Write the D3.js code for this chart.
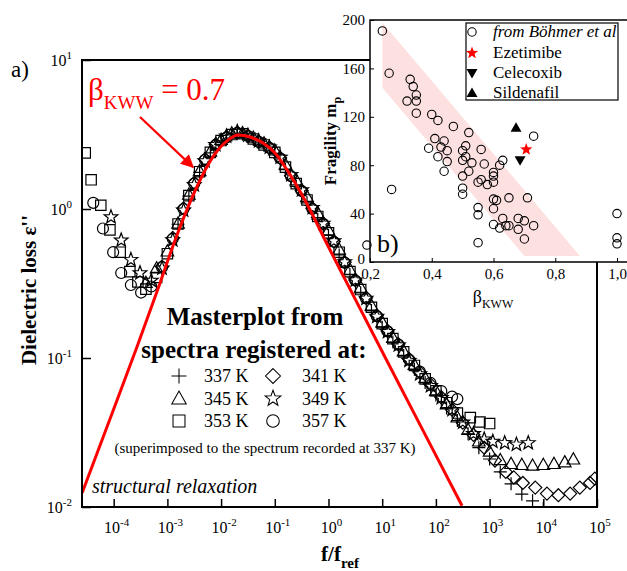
<!DOCTYPE html>
<html><head><meta charset="utf-8">
<script src="https://cdn.jsdelivr.net/npm/d3@7"></script>
<style>
body{margin:0;background:#fff}
svg{display:block}
text{font-family:"Liberation Serif","Times New Roman",serif;fill:#000}
</style>
</head><body>
<svg id="c" width="627" height="571"></svg>
<script>
// ---------- main chart data: [f/f_ref, eps''] ----------
const s337 = [[1.58e-3,0.79],[2.51e-3,1.22],[3.98e-3,1.76],[6.31e-3,2.38],[1.00e-2,2.86],[1.58e-2,3.14],[2.51e-2,3.18],[3.98e-2,2.93],[6.31e-2,2.67],[0.100,2.36],[0.158,1.84],[0.251,1.42],[0.398,1.10],[0.631,0.855],[1.00,0.665],[1.58,0.492],[2.51,0.362],[3.98,0.274],[6.31,0.208],[10.0,0.161],[15.8,0.128],[25.1,0.104],[39.8,0.0842],[63.1,0.0686],[100,0.0565],[158,0.0462],[251,0.0380],[398,0.0310],[631,0.0250],[1000,0.0210],[1580,0.0172],[2510,0.0143],[3980,0.0122],[6310,0.0110],[1.00e4,0.0098]];
const s341 = [[7.94e-4,0.41],[1.26e-3,0.64],[2.00e-3,1.01],[3.16e-3,1.50],[5.01e-3,2.16],[7.94e-3,2.72],[1.26e-2,3.05],[2.00e-2,3.26],[3.16e-2,3.10],[5.01e-2,2.84],[7.94e-2,2.58],[0.126,2.20],[0.200,1.67],[0.316,1.33],[0.501,1.01],[0.794,0.80],[1.26,0.605],[2.00,0.44],[3.16,0.334],[5.01,0.254],[7.94,0.193],[12.6,0.152],[20.0,0.124],[31.6,0.0985],[50.1,0.0800],[79.4,0.0665],[126,0.0545],[200,0.0450],[316,0.0368],[501,0.0305],[794,0.0250],[1260,0.0205],[2000,0.0172],[2820,0.0158],[4170,0.0145],[7080,0.0135],[1.17e4,0.0123],[1.91e4,0.0120],[3.16e4,0.0123],[4.79e4,0.0135],[7.41e4,0.0145],[9.12e4,0.0155]];
const s345 = [[3.98e-4,0.32],[6.31e-4,0.40],[1.00e-3,0.52],[1.58e-3,0.80],[2.51e-3,1.25],[3.98e-3,1.80],[6.31e-3,2.43],[1.00e-2,2.92],[1.58e-2,3.22],[2.51e-2,3.24],[3.98e-2,3.02],[6.31e-2,2.76],[0.100,2.48],[0.158,1.99],[0.251,1.56],[0.398,1.21],[0.631,0.94],[1.00,0.72],[1.58,0.535],[2.51,0.392],[3.98,0.297],[6.31,0.225],[10.0,0.174],[15.8,0.137],[25.1,0.111],[39.8,0.0900],[63.1,0.0735],[100,0.0600],[158,0.0490],[251,0.0400],[398,0.0330],[631,0.0276],[1000,0.0236],[1580,0.0207],[2510,0.0195],[3980,0.0192],[6310,0.0190],[1.00e4,0.0192],[1.58e4,0.0195],[2.51e4,0.0200],[3.63e4,0.0209]];
const s349 = [[8.91e-5,0.883],[1.38e-4,0.617],[2.09e-4,0.457],[3.09e-4,0.372],[5.01e-4,0.331],[7.94e-4,0.40],[1.26e-3,0.62],[2.00e-3,0.98],[3.16e-3,1.45],[5.01e-3,2.10],[7.94e-3,2.70],[1.26e-2,3.08],[2.00e-2,3.30],[3.16e-2,3.12],[5.01e-2,2.86],[7.94e-2,2.60],[0.126,2.22],[0.200,1.70],[0.316,1.34],[0.501,1.02],[0.794,0.80],[1.26,0.61],[2.00,0.44],[3.16,0.333],[5.01,0.251],[7.94,0.190],[12.6,0.150],[20.0,0.122],[31.6,0.0960],[50.1,0.0780],[79.4,0.0650],[126,0.0540],[200,0.0450],[316,0.0370],[501,0.0310],[794,0.0285],[1150,0.0275],[1910,0.0269],[3160,0.0263],[5250,0.0269]];
const s353 = [[2.95e-5,2.38],[3.80e-5,1.57],[5.75e-5,1.06],[8.51e-5,0.724],[1.32e-4,0.513],[2.00e-4,0.380],[2.82e-4,0.324],[3.98e-4,0.290],[6.31e-4,0.347],[1.00e-3,0.501],[1.58e-3,0.794],[2.51e-3,1.23],[3.98e-3,1.78],[6.31e-3,2.40],[1.00e-2,2.88],[1.58e-2,3.16],[2.51e-2,3.20],[3.98e-2,2.95],[6.31e-2,2.69],[0.100,2.40],[0.158,1.91],[0.251,1.48],[0.398,1.15],[0.631,0.891],[1.00,0.692],[1.58,0.513],[2.51,0.380],[3.98,0.288],[6.31,0.219],[10.0,0.170],[15.8,0.135],[25.1,0.110],[39.8,0.0891],[63.1,0.0724],[100,0.0603],[158,0.0501],[251,0.0427],[437,0.0398],[661,0.0372],[1000,0.0363]];
const s357 = [[4.17e-5,1.10],[6.31e-5,0.74],[9.77e-5,0.513],[1.38e-4,0.372],[2.09e-4,0.309],[3.24e-4,0.275],[5.01e-4,0.302],[7.94e-4,0.407],[1.26e-3,0.631],[2.00e-3,1.00],[3.16e-3,1.48],[5.01e-3,2.14],[7.94e-3,2.69],[1.26e-2,3.02],[2.00e-2,3.24],[3.16e-2,3.09],[5.01e-2,2.82],[7.94e-2,2.57],[0.126,2.19],[0.200,1.66],[0.316,1.32],[0.501,1.00],[0.794,0.794],[1.26,0.603],[2.00,0.437],[3.16,0.331],[5.01,0.251],[7.94,0.191],[12.6,0.151],[20.0,0.123],[31.6,0.0977],[50.1,0.081],[79.4,0.068],[126,0.060],[200,0.055],[251,0.053]];
// KWW fit (beta = 0.7)
const kwwFit = [[2.58e-5,0.0124],[8.53e-5,0.0390],[2.72e-4,0.119],[7.28e-4,0.318],[1.33e-3,0.592],[2.42e-3,1.03],[4.41e-3,1.66],[7.69e-3,2.34],[1.35e-2,2.90],[2.07e-2,3.14],[3.47e-2,3.04],[6.03e-2,2.77],[0.101,2.38],[0.169,1.83],[0.398,1.08],[0.938,0.582],[2.21,0.318],[12.3,0.0955],[68.2,0.0290],[306,0.0102]];
const tempLabels = ["337 K","341 K","345 K","349 K","353 K","357 K"];
const xMajorTicks = [1e-4,1e-3,1e-2,1e-1,1e0,1e1,1e2,1e3,1e4,1e5];
const xExponents = ["-4","-3","-2","-1","0","1","2","3","4","5"];
const yMajorTicks = [1e-2,1e-1,1e0,1e1];
const yExponents = ["-2","-1","0","1"];

// ---------- inset data ----------
const bohmerBeta = [0.24,0.262,0.27,0.33,0.34,0.32,0.35,0.35,0.35,0.40,0.42,0.47,0.52,0.41,0.44,0.39,0.43,0.45,0.51,0.50,0.56,0.42,0.45,0.50,0.51,0.53,0.44,0.52,0.50,0.57,0.60,0.60,0.62,0.63,0.55,0.56,0.58,0.60,0.50,0.50,0.60,0.61,0.65,0.55,0.60,0.55,0.60,0.63,0.62,0.64,0.65,0.68,0.70,0.68,0.73,0.70,0.55,0.71,0.73,0.19,1.00,1.00,1.00];
const bohmerM    = [191,156,60,151,145,133,138,133,123,122,117,112,107,102,100,94,95,92,96,92,93,87,83,84,87,82,75,75,71,81,74,71,80,84,66,68,64,66,61,56,52,51,53,45,44,39,31,36,28,30,30,36,34,27,30,19,16,53,104,14,40,20,15];
const ezetimibe = [0.706, 93];
const celecoxib = [0.686, 84];
const sildenafil = [0.673, 111];
const bandPoly = [[0.24,198],[0.88,5],[0.70,5],[0.24,144]];
const insetXTicks = [0.2,0.4,0.6,0.8,1.0];
const insetYTicks = [0,40,80,120,160,200];

// ---------- helpers ----------
function starPath(R, r){
  const p=[];
  for(let i=0;i<10;i++){const a=-Math.PI/2+i*Math.PI/5;const rad=i%2?r:R;p.push([rad*Math.cos(a),rad*Math.sin(a)]);}
  return "M"+p.map(q=>q[0].toFixed(2)+","+q[1].toFixed(2)).join("L")+"Z";
}
const shapes = {
  plus:"M-6.5,0H6.5M0,-6.5V6.5",
  diamond:"M0,-6.5L6.5,0L0,6.5L-6.5,0Z",
  triangle:"M0,-6.5L6.3,4.7H-6.3Z",
  star:starPath(7.2,3),
  square:"M-5.2,-5.2H5.2V5.2H-5.2Z",
  circle:"M5.5,0A5.5,5.5 0 1,1 -5.5,0A5.5,5.5 0 1,1 5.5,0Z"
};
const series = [
  {data:s357, shape:"circle"},
  {data:s353, shape:"square"},
  {data:s349, shape:"star"},
  {data:s345, shape:"triangle"},
  {data:s341, shape:"diamond"},
  {data:s337, shape:"plus"}
];

const svg = d3.select("#c");
const W=627,H=571;
svg.append("rect").attr("width",W).attr("height",H).attr("fill","#fff");

// ---------- main plot ----------
const L=82,R=597,T=60,B=507;
const x = d3.scaleLog().domain([2.57e-5,1e5]).range([L,R]);
const y = d3.scaleLog().domain([1e-2,1e1]).range([B,T]);

svg.append("clipPath").attr("id","clipMain").append("rect").attr("x",L).attr("y",T).attr("width",R-L).attr("height",B-T);

const xMinor=[];for(let e=-5;e<5;e++)for(let k=2;k<10;k++){const v=k*Math.pow(10,e);if(v>=2.57e-5&&v<=1e5)xMinor.push(v);}
const yMinor=[];for(let e=-2;e<1;e++)for(let k=2;k<10;k++){yMinor.push(k*Math.pow(10,e));}

const gx = svg.append("g").attr("transform",`translate(0,${B})`);
gx.call(d3.axisBottom(x).tickValues(xMinor).tickSize(-4).tickFormat(""));
gx.call(d3.axisBottom(x).tickValues(xMajorTicks).tickSize(-8).tickFormat(""));
gx.select(".domain").remove();
gx.selectAll("line").attr("stroke","#000").attr("stroke-width",1.5);
const gy = svg.append("g").attr("transform",`translate(${L},0)`);
gy.call(d3.axisLeft(y).tickValues(yMinor).tickSize(-5).tickFormat(""));
gy.call(d3.axisLeft(y).tickValues(yMajorTicks).tickSize(-9).tickFormat(""));
gy.select(".domain").remove();
gy.selectAll("line").attr("stroke","#000").attr("stroke-width",1.5);

xMajorTicks.forEach((v,i)=>{
  const t=svg.append("text").attr("x",x(v)+3).attr("y",B+26).attr("text-anchor","middle").attr("font-size",16);
  t.append("tspan").text("10");
  t.append("tspan").attr("dy",-7).attr("font-size",11).text(xExponents[i]);
});
yMajorTicks.forEach((v,i)=>{
  const t=svg.append("text").attr("x",L-10).attr("y",y(v)+6).attr("text-anchor","end").attr("font-size",16);
  t.append("tspan").text("10");
  t.append("tspan").attr("dy",-7).attr("font-size",11).text(yExponents[i]);
});

const gd = svg.append("g").attr("clip-path","url(#clipMain)");
series.forEach(s=>{
  gd.selectAll(null).data(s.data).enter().append("path")
    .attr("d",shapes[s.shape])
    .attr("transform",d=>`translate(${x(d[0])},${y(d[1])})`)
    .attr("fill","none").attr("stroke","#000").attr("stroke-width",1.2);
});
gd.append("path").datum(kwwFit)
  .attr("d",d3.line().x(d=>x(d[0])).y(d=>y(d[1])).curve(d3.curveMonotoneX))
  .attr("fill","none").attr("stroke","#f00").attr("stroke-width",3);

svg.append("rect").attr("x",L).attr("y",T).attr("width",R-L).attr("height",B-T)
  .attr("fill","none").attr("stroke","#000").attr("stroke-width",2);

// arrow annotation
const defs=svg.append("defs");
defs.append("marker").attr("id","ah").attr("viewBox","0 0 10 10").attr("refX",9).attr("refY",5)
  .attr("markerWidth",17).attr("markerHeight",13).attr("markerUnits","userSpaceOnUse")
  .attr("orient","auto").append("path").attr("d","M0,0L10,5L0,10Z").attr("fill","#f00");
svg.append("line").attr("x1",x(3.09e-4)).attr("y1",y(4.14)).attr("x2",x(3.0e-3)).attr("y2",y(1.91))
  .attr("stroke","#f00").attr("stroke-width",2.2).attr("marker-end","url(#ah)");

const beta=svg.append("text").attr("x",88).attr("y",100).attr("font-size",31).style("fill","#f00");
beta.append("tspan").text("β");
beta.append("tspan").attr("dy",9).attr("font-size",19).text("KWW");
beta.append("tspan").attr("dy",-9).text(" = 0.7");

svg.append("text").attr("x",11).attr("y",77).attr("font-size",23).text("a)");

svg.append("text").attr("transform","translate(36,290) rotate(-90)").attr("text-anchor","middle")
  .attr("font-size",21).attr("font-weight","bold").text("Dielectric loss ε''");
const xl=svg.append("text").attr("x",340).attr("y",561).attr("text-anchor","middle").attr("font-size",21).attr("font-weight","bold");
xl.append("tspan").text("f/f");
xl.append("tspan").attr("dy",7).attr("font-size",15).text("ref");

svg.append("text").attr("x",255).attr("y",325).attr("text-anchor","middle").attr("font-size",25).attr("font-weight","bold").text("Masterplot from");
svg.append("text").attr("x",254).attr("y",358).attr("text-anchor","middle").attr("font-size",25).attr("font-weight","bold").text("spectra registered at:");

const legOrder=[["plus",0],["diamond",1],["triangle",2],["star",3],["square",4],["circle",5]];
legOrder.forEach((e,i)=>{
  const col=i%2, row=Math.floor(i/2);
  const by=382+row*22.5;
  const sx=col?273:179, tx=col?302:204;
  svg.append("path").attr("d",shapes[e[0]]).attr("transform",`translate(${sx},${by-6}) scale(1.15)`)
    .attr("fill","none").attr("stroke","#000").attr("stroke-width",0.9);
  svg.append("text").attr("x",tx).attr("y",by).attr("font-size",18).text(tempLabels[e[1]]);
});
svg.append("text").attr("x",265).attr("y",453).attr("text-anchor","middle").attr("font-size",15)
  .text("(superimposed to the spectrum recorded at 337 K)");
svg.append("text").attr("x",92).attr("y",493).attr("font-size",20).attr("font-style","italic").text("structural relaxation");

// ---------- inset ----------
const iL=370,iR=617,iT=20,iB=262;
const x2=d3.scaleLinear().domain([0.2,1.0]).range([iL,iR]);
const y2=d3.scaleLinear().domain([0,200]).range([iB,iT]);
svg.append("rect").attr("x",iL).attr("y",iT).attr("width",W-iL).attr("height",iB-iT).attr("fill","#fff");
svg.append("path").datum(bandPoly).attr("d",d3.line().x(d=>x2(d[0])).y(d=>y2(d[1])).curve(d3.curveLinearClosed))
  .attr("fill","#fde1e1").attr("stroke","none");

const gx2=svg.append("g").attr("transform",`translate(0,${iB})`);
gx2.call(d3.axisBottom(x2).tickValues(insetXTicks).tickSize(-4).tickPadding(6).tickFormat(d=>d3.format(".1f")(d).replace(".",",")));
gx2.call(g=>g.select(".domain").remove());
gx2.selectAll("text").attr("font-size",15).attr("font-family","Liberation Serif").attr("fill","#000");
gx2.selectAll("line").attr("stroke","#000");
const gy2=svg.append("g").attr("transform",`translate(${iL},0)`);
gy2.call(d3.axisLeft(y2).tickValues(insetYTicks).tickSize(-4).tickPadding(5));
gy2.call(g=>g.select(".domain").remove());
gy2.selectAll("text").attr("font-size",15).attr("font-family","Liberation Serif").attr("fill","#000");
gy2.selectAll("line").attr("stroke","#000");
gy2.selectAll(".tick").filter(d=>d===0).select("text").attr("dy","0.1em");

svg.append("path").attr("d",`M${W+5},${iT}H${iL}V${iB}H${W+5}`).attr("fill","none").attr("stroke","#000").attr("stroke-width",1.5);

svg.selectAll(null).data(bohmerBeta.map((b,i)=>[b,bohmerM[i]])).enter().append("circle")
  .attr("cx",d=>x2(d[0])).attr("cy",d=>y2(d[1])).attr("r",4.2)
  .attr("fill","none").attr("stroke","#000").attr("stroke-width",1.1);
svg.append("path").attr("d","M0,-5.5L5.5,4H-5.5Z").attr("transform",`translate(${x2(sildenafil[0])},${y2(sildenafil[1])})`).attr("fill","#000");
svg.append("path").attr("d","M0,5.5L5.5,-4H-5.5Z").attr("transform",`translate(${x2(celecoxib[0])},${y2(celecoxib[1])})`).attr("fill","#000");
svg.append("path").attr("d",starPath(6.5,2.7)).attr("transform",`translate(${x2(ezetimibe[0])},${y2(ezetimibe[1])})`).attr("fill","#f00");

svg.append("rect").attr("x",466).attr("y",23).attr("width",152).attr("height",77).attr("fill","#fff").attr("stroke","#000").attr("stroke-width",1.2);
svg.append("circle").attr("cx",472).attr("cy",32).attr("r",4.2).attr("fill","none").attr("stroke","#000").attr("stroke-width",1.1);
svg.append("path").attr("d",starPath(6.5,2.7)).attr("transform","translate(472,53)").attr("fill","#f00");
svg.append("path").attr("d","M0,5.5L5.5,-4H-5.5Z").attr("transform","translate(472,73)").attr("fill","#000");
svg.append("path").attr("d","M0,-5.5L5.5,4H-5.5Z").attr("transform","translate(472,93)").attr("fill","#000");
const legTexts=[["from Böhmer et al","italic",37],["Ezetimibe","normal",58],["Celecoxib","normal",78],["Sildenafil","normal",98]];
legTexts.forEach(t=>svg.append("text").attr("x",493).attr("y",t[2]).attr("font-size",17).attr("font-style",t[1]).text(t[0]));

const fy=svg.append("text").attr("transform","translate(336,141) rotate(-90)").attr("text-anchor","middle").attr("font-size",17).attr("font-weight","bold");
fy.append("tspan").text("Fragility m");
fy.append("tspan").attr("dy",5).attr("font-size",12).text("p");
const bx=svg.append("text").attr("x",493).attr("y",303).attr("text-anchor","middle").attr("font-size",18);
bx.append("tspan").text("β");
bx.append("tspan").attr("dy",5).attr("font-size",12).text("KWW");
svg.append("text").attr("x",377).attr("y",252).attr("font-size",26).text("b)");
</script>
</body></html>
